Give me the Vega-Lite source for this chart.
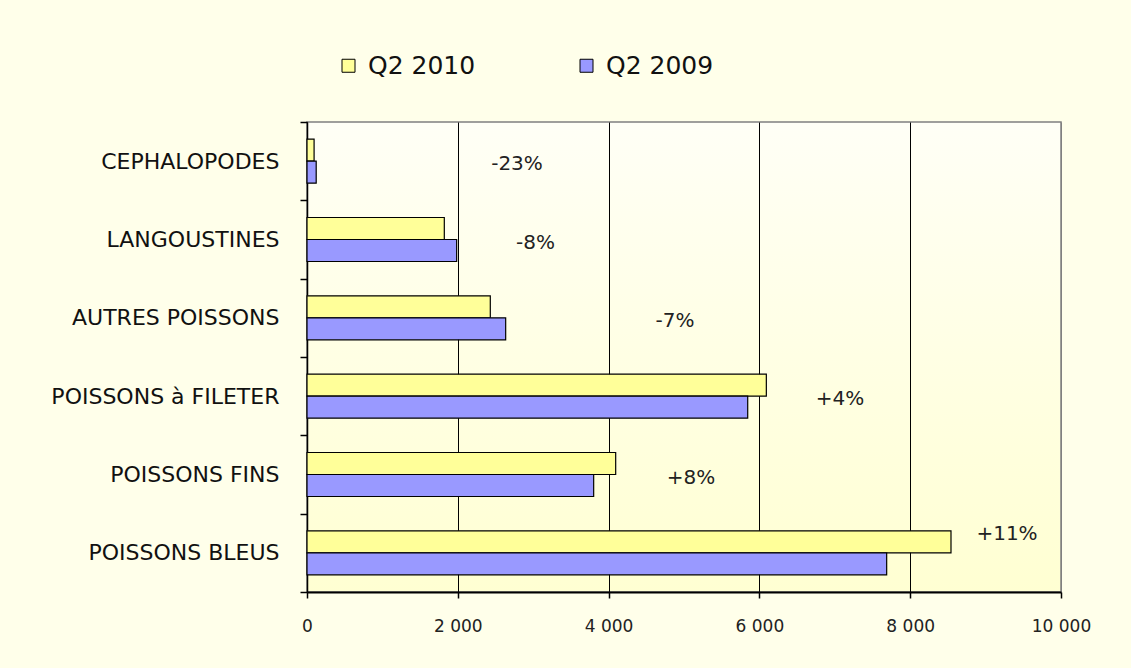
{
  "$schema": "https://vega.github.io/schema/vega-lite/v6.json",
  "width": 754,
  "height": 470,
  "autosize": {"type": "none"},
  "padding": {"left": 307, "top": 122, "right": 70, "bottom": 76},
  "background": "#FFFFEA",
  "config": {
    "font": "DejaVu Sans",
    "view": {
      "stroke": "#808080",
      "strokeWidth": 1.5,
      "fill": {
        "gradient": "linear",
        "x1": 0, "y1": 0, "x2": 0, "y2": 1,
        "stops": [{"offset": 0, "color": "#FFFFF6"}, {"offset": 1, "color": "#FFFFD2"}]
      }
    }
  },
  "datasets": {
    "values": [
      {"category": "CEPHALOPODES", "series": "Q2 2010", "value": 94},
      {"category": "CEPHALOPODES", "series": "Q2 2009", "value": 122},
      {"category": "LANGOUSTINES", "series": "Q2 2010", "value": 1821},
      {"category": "LANGOUSTINES", "series": "Q2 2009", "value": 1985},
      {"category": "AUTRES POISSONS", "series": "Q2 2010", "value": 2431},
      {"category": "AUTRES POISSONS", "series": "Q2 2009", "value": 2635},
      {"category": "POISSONS à FILETER", "series": "Q2 2010", "value": 6092},
      {"category": "POISSONS à FILETER", "series": "Q2 2009", "value": 5845},
      {"category": "POISSONS FINS", "series": "Q2 2010", "value": 4094},
      {"category": "POISSONS FINS", "series": "Q2 2009", "value": 3802},
      {"category": "POISSONS BLEUS", "series": "Q2 2010", "value": 8541},
      {"category": "POISSONS BLEUS", "series": "Q2 2009", "value": 7688}
    ],
    "labels": [
      {"category": "CEPHALOPODES", "pct": "-23%", "labelX": 2785},
      {"category": "LANGOUSTINES", "pct": "-8%", "labelX": 3031},
      {"category": "AUTRES POISSONS", "pct": "-7%", "labelX": 4880},
      {"category": "POISSONS à FILETER", "pct": "+4%", "labelX": 7069},
      {"category": "POISSONS FINS", "pct": "+8%", "labelX": 5093},
      {"category": "POISSONS BLEUS", "pct": "+11%", "labelX": 9284}
    ]
  },
  "layer": [
    {
      "data": {"name": "values"},
      "mark": {"type": "bar", "stroke": "black", "strokeWidth": 1.2},
      "encoding": {
        "y": {
          "field": "category",
          "type": "nominal",
          "sort": ["CEPHALOPODES", "LANGOUSTINES", "AUTRES POISSONS", "POISSONS à FILETER", "POISSONS FINS", "POISSONS BLEUS"],
          "scale": {"paddingInner": 0, "paddingOuter": 0},
          "axis": {
            "title": null,
            "tickBand": "extent",
            "tickSize": 7,
            "tickColor": "black",
            "tickWidth": 1.5,
            "domainColor": "black",
            "domainWidth": 1.5,
            "labelFontSize": 22,
            "labelColor": "#111111",
            "labelPadding": 21,
            "labelLimit": 400
          }
        },
        "yOffset": {
          "field": "series",
          "type": "nominal",
          "sort": ["Q2 2010", "Q2 2009"],
          "scale": {"paddingInner": 0, "paddingOuter": 0.78}
        },
        "x": {
          "field": "value",
          "type": "quantitative",
          "scale": {"domain": [0, 10000], "nice": false},
          "axis": {
            "title": null,
            "values": [0, 2000, 4000, 6000, 8000, 10000],
            "labelExpr": "replace(format(datum.value, ','), ',', ' ')",
            "labelFlush": false,
            "grid": true,
            "gridColor": {"condition": {"test": "datum.value === 10000", "value": "#808080"}, "value": "black"},
            "gridWidth": 1,
            "tickSize": 6,
            "tickColor": "black",
            "tickWidth": 1.5,
            "domainColor": "black",
            "domainWidth": 2,
            "labelFontSize": 17,
            "labelColor": "#222222",
            "labelPadding": 20
          }
        },
        "color": {
          "field": "series",
          "type": "nominal",
          "scale": {"domain": ["Q2 2010", "Q2 2009"], "range": ["#FFFF99", "#9999FF"]},
          "legend": {
            "title": null,
            "orient": "none",
            "direction": "horizontal",
            "legendX": 29,
            "legendY": -69,
            "symbolType": "square",
            "symbolSize": 169,
            "symbolStrokeColor": "black",
            "symbolStrokeWidth": 1,
            "symbolOpacity": 1,
            "labelFontSize": 25,
            "labelColor": "#111111",
            "labelOffset": 7,
            "columnPadding": 98,
            "labelLimit": 300
          }
        }
      }
    },
    {
      "data": {"name": "labels"},
      "transform": [{"filter": "datum.pct !== '+11%'"}],
      "mark": {"type": "text", "fontSize": 20, "color": "#222222", "align": "center", "baseline": "middle", "dy": 3},
      "encoding": {
        "y": {"field": "category", "type": "nominal", "sort": ["CEPHALOPODES", "LANGOUSTINES", "AUTRES POISSONS", "POISSONS à FILETER", "POISSONS FINS", "POISSONS BLEUS"]},
        "x": {"field": "labelX", "type": "quantitative"},
        "text": {"field": "pct"}
      }
    },
    {
      "data": {"name": "labels"},
      "transform": [{"filter": "datum.pct === '+11%'"}],
      "mark": {"type": "text", "fontSize": 20, "color": "#222222", "align": "center", "baseline": "middle", "dy": -19},
      "encoding": {
        "y": {"field": "category", "type": "nominal", "sort": ["CEPHALOPODES", "LANGOUSTINES", "AUTRES POISSONS", "POISSONS à FILETER", "POISSONS FINS", "POISSONS BLEUS"]},
        "x": {"field": "labelX", "type": "quantitative"},
        "text": {"field": "pct"}
      }
    }
  ]
}
